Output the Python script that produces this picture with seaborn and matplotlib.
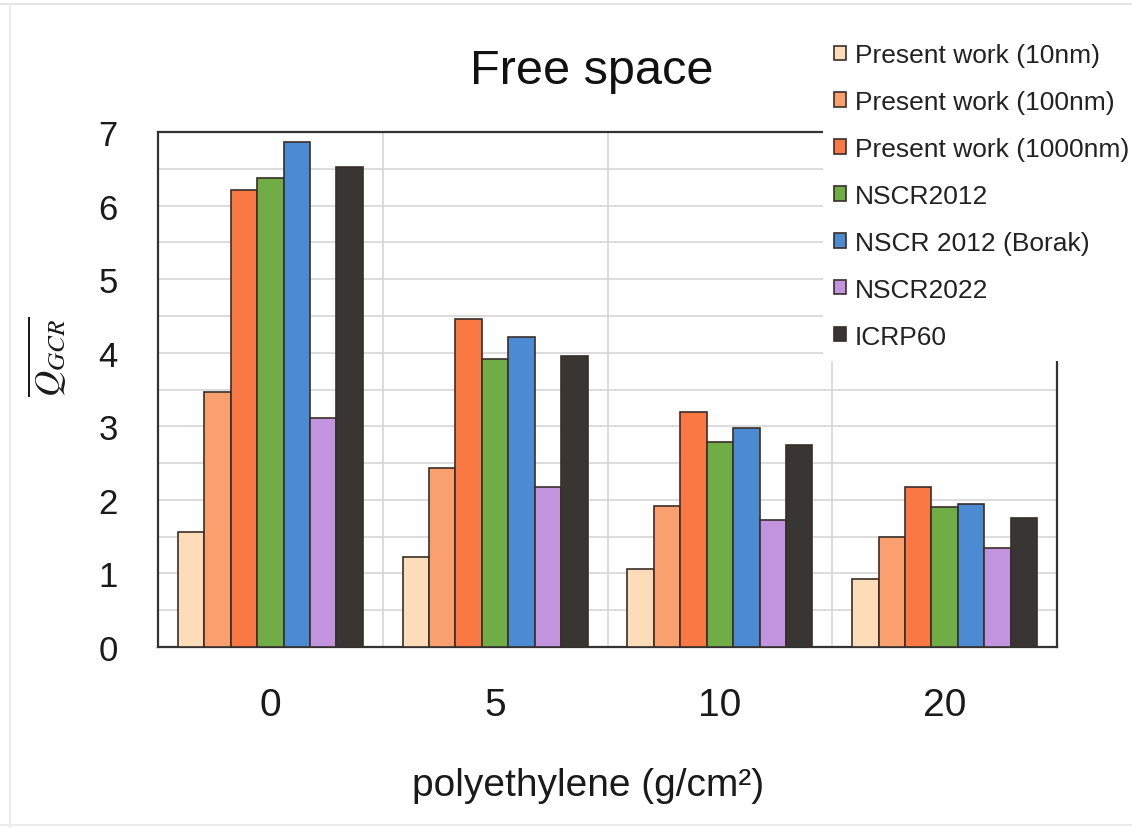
import matplotlib
matplotlib.use("Agg")
import matplotlib.pyplot as plt
from matplotlib.patches import Rectangle
from matplotlib.lines import Line2D
import seaborn as sns
import pandas as pd
import numpy as np

# ---- data ----
categories = ["0", "5", "10", "20"]
series_names = ["Present work (10nm)", "Present work (100nm)", "Present work (1000nm)",
                "NSCR2012", "NSCR 2012 (Borak)", "NSCR2022", "ICRP60"]
pw_10nm = [1.56, 1.22, 1.06, 0.93]
pw_100nm = [3.46, 2.43, 1.91, 1.50]
pw_1000nm = [6.21, 4.46, 3.20, 2.18]
nscr2012 = [6.38, 3.92, 2.79, 1.90]
nscr2012_borak = [6.86, 4.22, 2.98, 1.94]
nscr2022 = [3.11, 2.17, 1.72, 1.35]
icrp60 = [6.53, 3.95, 2.74, 1.75]
y_ticks = [0, 1, 2, 3, 4, 5, 6, 7]

colors = ["#FDDCBA", "#F9A06E", "#FA7843", "#70AD47", "#4A8BD3", "#C294E0", "#383533"]

all_series = [pw_10nm, pw_100nm, pw_1000nm, nscr2012, nscr2012_borak, nscr2022, icrp60]
rows = []
for name, vals in zip(series_names, all_series):
    for c, v in zip(categories, vals):
        rows.append({"thickness": c, "value": v, "series": name})
df = pd.DataFrame(rows)

sns.set_theme(style="white")
plt.rcParams["font.family"] = ["Liberation Sans", "DejaVu Sans"]
plt.rcParams["mathtext.fontset"] = "stix"

W, H = 1132, 829
fig = plt.figure(figsize=(W / 100, H / 100), dpi=100)
ax = fig.add_axes([158 / W, 1 - 648 / H, (1057 - 158) / W, (648 - 133) / H])

sns.barplot(data=df, x="thickness", y="value", hue="series", order=categories,
            hue_order=series_names, palette=colors, saturation=1, width=0.823, gap=0,
            edgecolor="#3a2e28", linewidth=1.2, ax=ax, zorder=3, legend=True)

handles, labels = ax.get_legend_handles_labels()
if ax.get_legend() is not None:
    ax.get_legend().remove()

ax.set_ylim(0, 7)
ax.set_yticks(y_ticks)
ax.set_yticks(np.arange(0.5, 7, 1.0), minor=True)
ax.set_xticks([0.5, 1.5, 2.5], minor=True)
ax.set_xlim(-0.5, 3.5)
ax.grid(which="major", axis="y", color="#d6d6d6", linewidth=1.2, zorder=0)
ax.grid(which="minor", axis="both", color="#d6d6d6", linewidth=1.2, zorder=0)
ax.set_axisbelow(True)
ax.tick_params(axis="both", which="both", length=0)
ax.tick_params(axis="y", labelsize=25, pad=29, labelcolor="#1a1a1a")
ax.tick_params(axis="x", labelsize=28, pad=29, labelcolor="#1a1a1a")
ax.set_xlabel("")
ax.set_ylabel("")
for s in ["left", "bottom", "top", "right"]:
    ax.spines[s].set_visible(True)
    ax.spines[s].set_color("#333333")
    ax.spines[s].set_linewidth(1.6)

# white box behind the legend covering the corner of the frame
fig.add_artist(Rectangle((823 / W, 1 - 362 / H), 1 - 823 / W, (362 - 14) / H,
                         transform=fig.transFigure, facecolor="white",
                         edgecolor="none", zorder=4))

leg = fig.legend(handles, labels, loc="upper left",
                 bbox_to_anchor=(834 / W, 1 - 44 / H), bbox_transform=fig.transFigure,
                 frameon=False, fontsize=19, handlelength=0.45, handleheight=0.45,
                 handletextpad=0.35, labelspacing=0.87, borderpad=0, borderaxespad=0)
for t in leg.get_texts():
    t.set_color("#222222")

fig.text(592 / W, 1 - 72 / H, "Free space", ha="center", va="center",
         fontsize=35, color="#111111")
fig.text(588 / W, 1 - 786 / H, "polyethylene (g/cm²)", ha="center", va="center",
         fontsize=28, color="#1a1a1a")
fig.text(47 / W, 1 - 357 / H, r"$\overline{Q_{GCR}}$", ha="center", va="center",
         rotation=90, fontsize=26, color="#1a1a1a")

# faint outer border of the image
fig.add_artist(Line2D([0, 1], [1 - 5 / H, 1 - 5 / H], transform=fig.transFigure,
                      color="#e4e4e4", linewidth=1.5))
fig.add_artist(Line2D([10 / W, 10 / W], [0, 1 - 5 / H], transform=fig.transFigure,
                      color="#ececec", linewidth=1.5))
fig.add_artist(Line2D([0, 1], [1 - 826 / H, 1 - 826 / H], transform=fig.transFigure,
                      color="#ececec", linewidth=1.5))

fig.savefig("out.png", dpi=100)
